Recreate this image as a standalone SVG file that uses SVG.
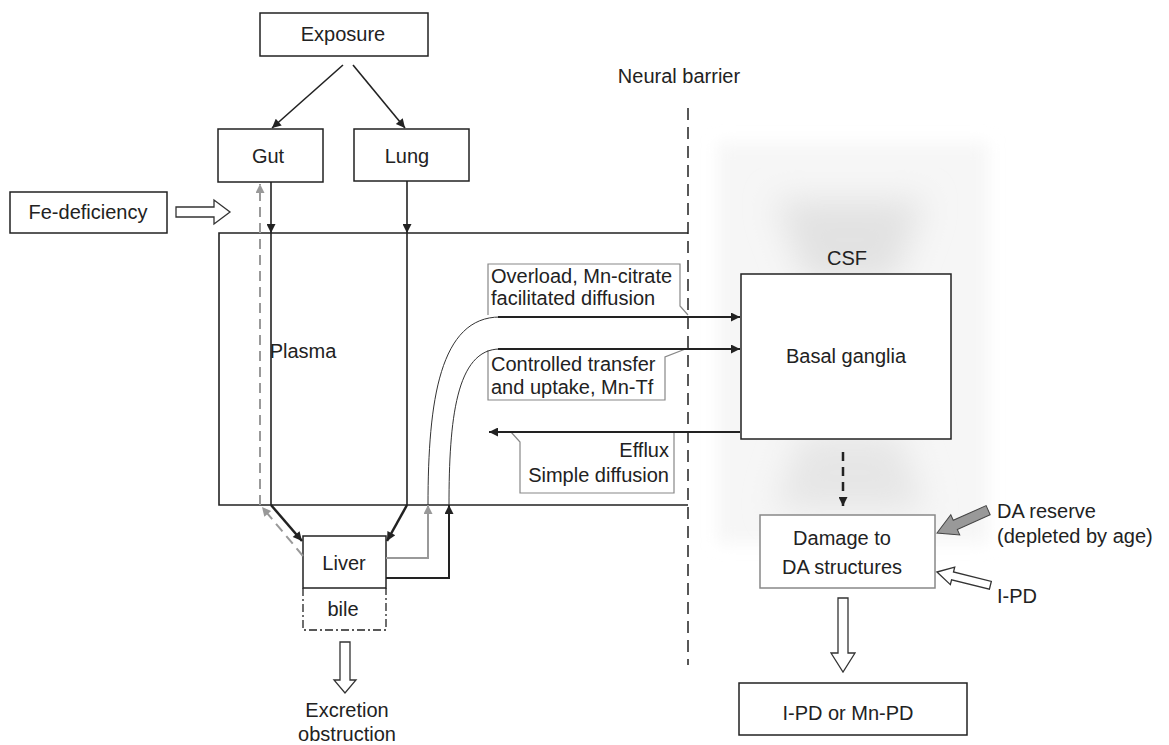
<svg xmlns="http://www.w3.org/2000/svg" width="1169" height="745" viewBox="0 0 1169 745">
<style>
text{font-family:"Liberation Sans",Arial,sans-serif;font-size:20px;fill:#222}
.c{text-anchor:middle}
.e{text-anchor:end}
.box{fill:#fff;stroke:#222;stroke-width:1.5}
.gbox{fill:#fff;stroke:#888;stroke-width:1.5}
.ln{fill:none;stroke:#222;stroke-width:1.6}
.thin{fill:none;stroke:#333;stroke-width:1}
.thick{fill:none;stroke:#222;stroke-width:2.5}
.gray{fill:none;stroke:#999;stroke-width:2}
.call{fill:#fff;stroke:#888;stroke-width:1.2}
.hollow{fill:#fff;stroke:#333;stroke-width:1.3}
</style>
<defs>
<marker id="ab" viewBox="0 0 10 10" refX="10" refY="5" markerWidth="11" markerHeight="9" markerUnits="userSpaceOnUse" orient="auto"><path d="M0,0 L10,5 L0,10 z" fill="#222"/></marker>
<marker id="ag" viewBox="0 0 10 10" refX="10" refY="5" markerWidth="11" markerHeight="9" markerUnits="userSpaceOnUse" orient="auto"><path d="M0,0 L10,5 L0,10 z" fill="#999"/></marker>
<filter id="blur1" x="-20%" y="-20%" width="140%" height="140%"><feGaussianBlur stdDeviation="8"/></filter>
<filter id="blur2" x="-40%" y="-40%" width="180%" height="180%"><feGaussianBlur stdDeviation="16"/></filter>
</defs>

<g id="csf-glow">
<rect x="718" y="143" width="270" height="400" fill="#f6f6f6" filter="url(#blur1)"/>
<polygon points="775,200 925,200 895,280 805,280" fill="#e2e2e2" filter="url(#blur2)"/>
<polygon points="800,435 900,435 925,510 775,510" fill="#e6e6e6" filter="url(#blur2)"/>
</g>

<g id="barrier">
<line x1="688" y1="108" x2="688" y2="665" stroke="#222" stroke-width="1.5" stroke-dasharray="12,7"/>
<text x="679" y="83" class="c">Neural barrier</text>
</g>

<g id="plasma">
<path d="M688,233 H219 V505 H688" class="ln"/>
<text x="303" y="358" class="c">Plasma</text>
</g>

<g id="exposure">
<rect x="260" y="13" width="168" height="43" class="box"/>
<text x="343" y="41" class="c">Exposure</text>
</g>
<g id="gut">
<rect x="218" y="129" width="105" height="53" class="box"/>
<text x="268" y="163" class="c">Gut</text>
</g>
<g id="lung">
<rect x="354" y="129" width="115" height="52" class="box"/>
<text x="407" y="163" class="c">Lung</text>
</g>
<g id="fe">
<rect x="10" y="192" width="157" height="41" class="box"/>
<text x="88" y="219" class="c">Fe-deficiency</text>
</g>
<g id="liver">
<rect x="303" y="536" width="83" height="52" class="box"/>
<text x="344" y="570" class="c">Liver</text>
</g>
<g id="bile">
<path d="M303,588 V630 H386 V588" fill="none" stroke="#222" stroke-width="1.3" stroke-dasharray="8,3,2,3"/>
<text x="343" y="616" class="c">bile</text>
</g>
<g id="excretion">
<text x="347" y="717" class="c">Excretion</text>
<text x="347" y="741" class="c">obstruction</text>
</g>
<g id="basal">
<text x="847" y="265" class="c">CSF</text>
<rect x="741" y="274" width="210" height="165" class="box"/>
<text x="846" y="363" class="c">Basal ganglia</text>
</g>
<g id="damage">
<rect x="760" y="515" width="175" height="73" class="gbox"/>
<text x="842" y="545" class="c">Damage to</text>
<text x="842" y="574" class="c">DA structures</text>
</g>
<g id="da-reserve">
<text x="997" y="518">DA reserve</text>
<text x="997" y="543">(depleted by age)</text>
</g>
<g id="ipd">
<text x="997" y="603">I-PD</text>
</g>
<g id="outcome">
<rect x="739" y="683" width="228" height="52" class="box"/>
<text x="848" y="720" class="c">I-PD or Mn-PD</text>
</g>

<g id="callouts">
<path d="M488,315 V264 H680 V306 L688,315" class="call"/>
<text x="491" y="283">Overload, Mn-citrate</text>
<text x="491" y="305">facilitated diffusion</text>
<path d="M488,350 V400 H665 V357 L688,348" class="call"/>
<text x="491" y="371">Controlled transfer</text>
<text x="491" y="394">and uptake, Mn-Tf</text>
<path d="M511,432 L520,442 V493 H674 V432" class="call"/>
<text x="669" y="457" class="e">Efflux</text>
<text x="669" y="482" class="e">Simple diffusion</text>
</g>

<g id="connectors">
<line x1="343" y1="65" x2="272" y2="128" class="ln" marker-end="url(#ab)"/>
<line x1="353" y1="65" x2="405" y2="128" class="ln" marker-end="url(#ab)"/>
<line x1="271" y1="182" x2="271" y2="233" class="ln" marker-end="url(#ab)"/>
<line x1="271" y1="233" x2="271" y2="505" class="ln"/>
<line x1="407" y1="181" x2="407" y2="233" class="ln" marker-end="url(#ab)"/>
<line x1="407" y1="233" x2="407" y2="505" class="ln"/>
<line x1="271" y1="505" x2="302" y2="541" class="thick" marker-end="url(#ab)"/>
<line x1="407" y1="505" x2="387" y2="541" class="thick" marker-end="url(#ab)"/>
<line x1="303" y1="556" x2="262" y2="507" class="gray" stroke-dasharray="10,6" marker-end="url(#ag)"/>
<line x1="260" y1="505" x2="260" y2="184" class="gray" stroke-dasharray="10,6" marker-end="url(#ag)"/>
<path d="M386,558 H428 V505" class="gray" marker-end="url(#ag)"/>
<path d="M386,578 H449 V505" fill="none" stroke="#222" stroke-width="2" marker-end="url(#ab)"/>
<path d="M428,505 C428,400 440,317 500,317" class="thin"/>
<path d="M449,505 C449,420 456,349 500,349" class="thin"/>
<line x1="498" y1="317" x2="740" y2="317" stroke="#222" stroke-width="2" marker-end="url(#ab)"/>
<line x1="498" y1="349" x2="740" y2="349" stroke="#222" stroke-width="2" marker-end="url(#ab)"/>
<line x1="740" y1="432" x2="489" y2="432" stroke="#222" stroke-width="2" marker-end="url(#ab)"/>
<line x1="843" y1="452" x2="843" y2="506" stroke="#222" stroke-width="2.5" stroke-dasharray="9,6" marker-end="url(#ab)"/>
<polygon points="176,207 214,207 214,200 230,212 214,224 214,217 176,217" class="hollow"/>
<polygon points="340,642 350,642 350,680 356,680 345,693 334,680 340,680" class="hollow"/>
<polygon points="838,598 848,598 848,653 855,653 843,672 831,653 838,653" class="hollow"/>
<polygon points="0,0 20,-11 20,-5 56,-5 56,5 20,5 20,11" transform="translate(937,533) rotate(-24)" fill="#999" stroke="#444" stroke-width="1"/>
<polygon points="0,0 16,-9 16,-4 55,-4 55,4 16,4 16,9" transform="translate(937,572) rotate(14)" class="hollow"/>
</g>
</svg>
